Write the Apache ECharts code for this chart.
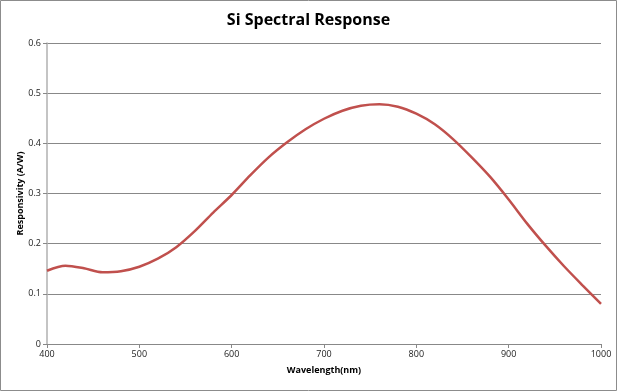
<!DOCTYPE html>
<html>
<head>
<meta charset="utf-8">
<script src="https://cdn.jsdelivr.net/npm/echarts@6/dist/echarts.min.js"></script>
<style>
html,body{margin:0;padding:0;background:#fff;}
#chart{width:617px;height:391px;}
</style>
</head>
<body>
<div id="chart"></div>
<script>
const wavelengths = [400,420,440,460,480,500,520,540,560,580,600,620,640,660,680,700,720,740,760,780,800,820,840,860,880,900,920,940,960,980,1000];
const responsivity = [0.146,0.156,0.151,0.143,0.145,0.154,0.170,0.193,0.225,0.262,0.297,0.336,0.372,0.402,0.428,0.449,0.465,0.475,0.478,0.473,0.459,0.438,0.408,0.372,0.333,0.288,0.240,0.196,0.155,0.117,0.080];
const xTicks = [400,500,600,700,800,900,1000];
const yTicks = [0,0.1,0.2,0.3,0.4,0.5,0.6];

const chart = echarts.init(document.getElementById('chart'));
const axisColor = '#888888';
const fontFam = '"Open Sans", "Liberation Sans", sans-serif';
chart.setOption({
  animation: false,
  title: {
    text: 'Si Spectral Response',
    left: 'center',
    top: 7,
    textStyle: {fontFamily: fontFam, fontSize: 16, fontWeight: 'bold', color: '#000'}
  },
  graphic: [{
    type: 'rect',
    shape: {x: 0.5, y: 0.5, width: 616, height: 390},
    style: {fill: 'none', stroke: '#8c8c8c', lineWidth: 1},
    silent: true
  }],
  grid: {left: 47, right: 16, top: 43, bottom: 47},
  xAxis: {
    type: 'value',
    min: xTicks[0], max: xTicks[xTicks.length-1], interval: 100,
    name: 'Wavelength(nm)',
    nameLocation: 'middle',
    nameGap: 22,
    nameMoveOverlap: false,
    nameTextStyle: {fontFamily: fontFam, fontSize: 9, fontWeight: 'bold', color: '#000'},
    axisLine: {lineStyle: {color: axisColor, width: 1}},
    axisTick: {show: true, length: 4, lineStyle: {color: axisColor}},
    axisLabel: {fontFamily: fontFam, fontSize: 9, color: '#222', margin: 6,
      formatter: v => String(v)},
    splitLine: {show: false}
  },
  yAxis: {
    type: 'value',
    min: yTicks[0], max: yTicks[yTicks.length-1], interval: 0.1,
    name: 'Responsivity (A/W)',
    nameLocation: 'middle',
    nameGap: 22,
    nameMoveOverlap: false,
    nameTextStyle: {fontFamily: fontFam, fontSize: 9, fontWeight: 'bold', color: '#000'},
    axisLine: {show: true, lineStyle: {color: '#b0b0b0', width: 1.5}},
    axisTick: {show: true, length: 4, lineStyle: {color: axisColor}},
    axisLabel: {fontFamily: fontFam, fontSize: 9, color: '#222', margin: 6,
      formatter: v => String(Math.round(v*10)/10)},
    splitLine: {show: true, lineStyle: {color: axisColor, width: 1}}
  },
  series: [{
    type: 'line',
    data: wavelengths.map((w, i) => [w, responsivity[i]]),
    smooth: 0.3,
    showSymbol: false,
    lineStyle: {color: '#C0504D', width: 2.5},
    itemStyle: {color: '#C0504D'}
  }]
});
</script>
</body>
</html>
